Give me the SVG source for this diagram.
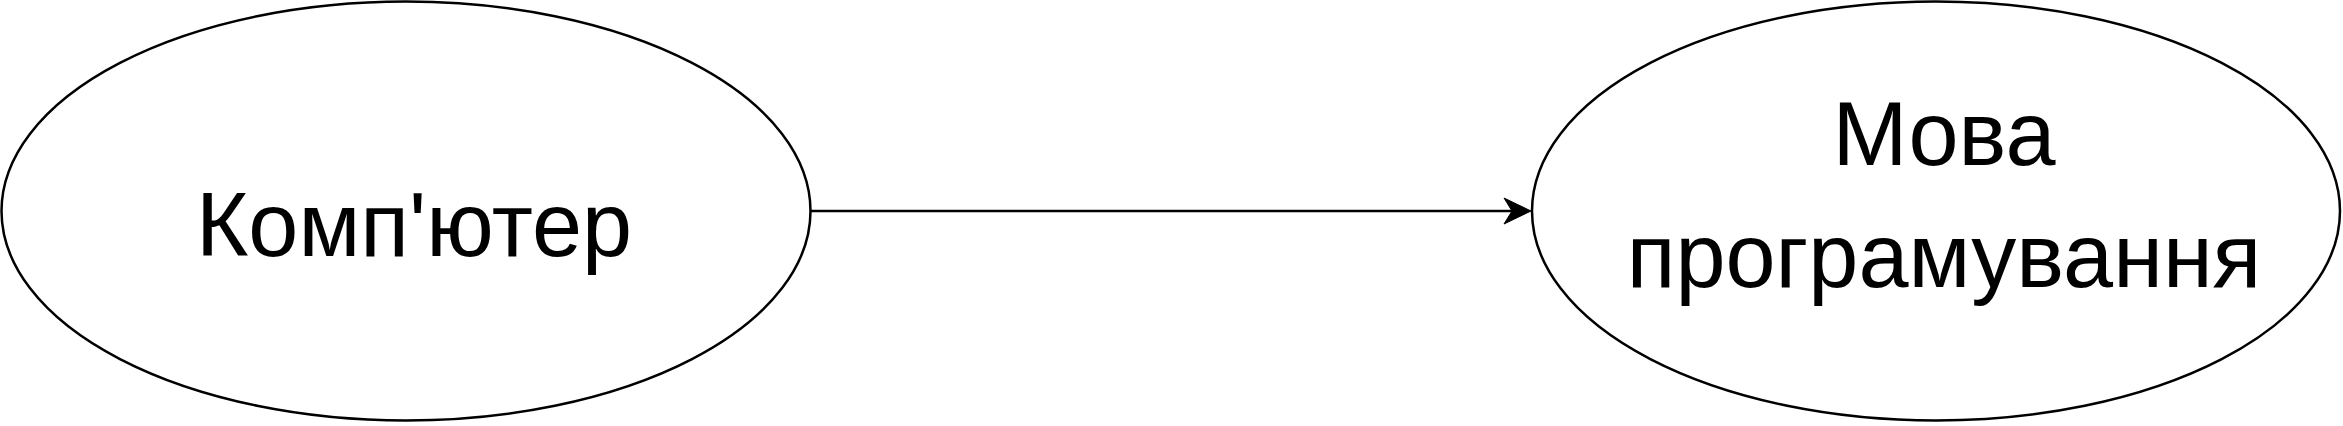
<svg xmlns="http://www.w3.org/2000/svg" width="2343" height="426" viewBox="0 0 2343 426">
<style>
.node{fill:#ffffff;stroke:#000000;stroke-width:2.5}
.lbl{font-family:"Liberation Sans",Arial,sans-serif;font-size:90px;fill:#000000;text-anchor:middle}
.edge{stroke:#000000;stroke-width:2.5;fill:none}
.head{fill:#000000;stroke:#000000;stroke-width:1}
</style>
<rect width="2343" height="426" fill="#ffffff"/>
<g id="node-computer">
<ellipse class="node" cx="406" cy="211" rx="404.5" ry="209.5"/>
<text class="lbl" x="414" y="256">Комп'ютер</text>
</g>
<g id="node-language">
<ellipse class="node" cx="1936" cy="211" rx="404" ry="209.5"/>
<text class="lbl" x="1944" y="165">Мова</text>
<text class="lbl" x="1944" y="287">програмування</text>
</g>
<g id="connectors">
<line class="edge" x1="811" y1="211" x2="1514" y2="211"/>
<path class="head" d="M1531,211 L1504,198 L1512,211 L1504,224 Z"/>
</g>
</svg>
